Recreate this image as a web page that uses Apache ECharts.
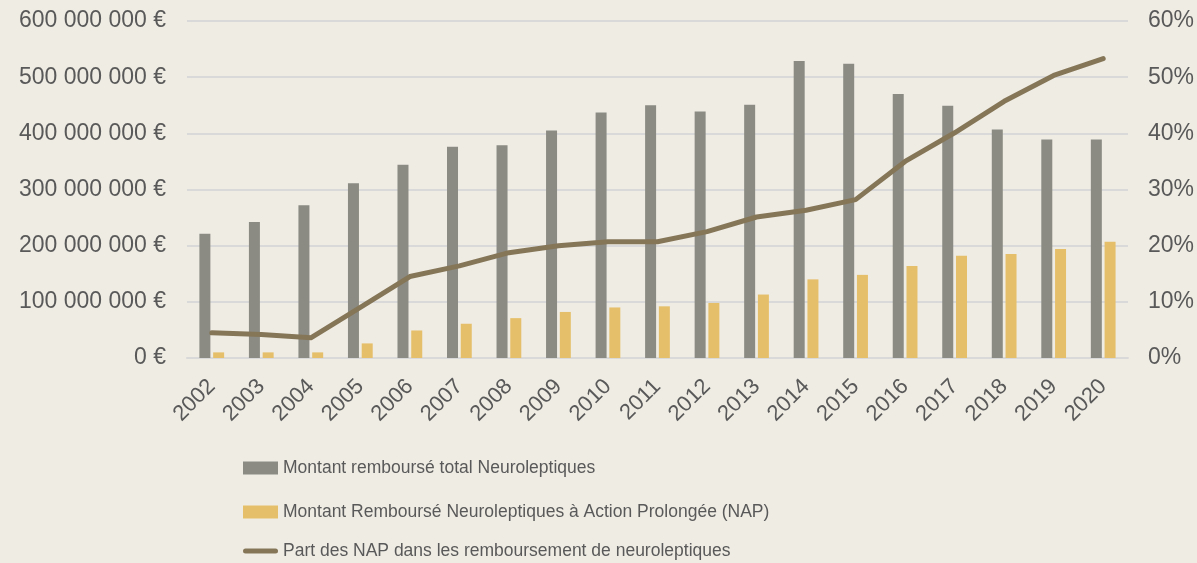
<!DOCTYPE html>
<html>
<head>
<meta charset="utf-8">
<script src="https://cdn.jsdelivr.net/npm/echarts@6/dist/echarts.min.js"></script>
<style>
html,body{margin:0;padding:0;background:#EFECE4;}
#c{width:1197px;height:563px;}
</style>
</head>
<body>
<div id="c"></div>
<script>
var years = ['2002','2003','2004','2005','2006','2007','2008','2009','2010','2011','2012','2013','2014','2015','2016','2017','2018','2019','2020'];
var totalRembourse = [221000000,242000000,272000000,311000000,344000000,376000000,379000000,405000000,437000000,450000000,439000000,451000000,529000000,524000000,470000000,449000000,407000000,389000000,389000000];
var napRembourse = [10000000,10000000,10000000,26000000,49000000,61000000,71000000,82000000,90000000,92000000,98000000,113000000,140000000,148000000,164000000,182000000,185000000,194000000,207000000];
var partNap = [4.5,4.2,3.6,9.0,14.5,16.4,18.75,20.0,20.7,20.7,22.5,25.1,26.3,28.2,35.0,40.1,45.7,50.3,53.3];
var seriesNames = ['Montant remboursé total Neuroleptiques','Montant Remboursé Neuroleptiques à Action Prolongée (NAP)','Part des NAP dans les remboursement de neuroleptiques'];

function fmtEuro(v){
  var s = String(Math.round(v));
  return s.replace(/\B(?=(\d{3})+(?!\d))/g, ' ') + ' €';
}

var chart = echarts.init(document.getElementById('c'));
var txt = '#595959';
var legendText = {color: txt, fontSize: 17.5};
chart.setOption({
  backgroundColor: '#EFECE4',
  animation: false,
  textStyle: {fontFamily: 'Liberation Sans, Arial, sans-serif'},
  grid: {left: 187, right: 69, top: 21, bottom: 205, containLabel: false},
  legend: [
    {left: 243, top: 459, padding: 0, itemWidth: 35, itemHeight: 13, itemGap: 5,
     textStyle: legendText, data: [{name: seriesNames[0], icon: 'rect'}]},
    {left: 243, top: 503, padding: 0, itemWidth: 35, itemHeight: 13, itemGap: 5,
     textStyle: legendText, data: [{name: seriesNames[1], icon: 'rect'}]},
    {left: 243, top: 542, padding: 0, itemWidth: 35, itemHeight: 13, itemGap: 5,
     textStyle: legendText,
     data: [{name: seriesNames[2], icon: 'path://M2.5,0 L32.5,0 A2.5,2.5 0 0 1 32.5,5 L2.5,5 A2.5,2.5 0 0 1 2.5,0 Z'}]}
  ],
  xAxis: {
    type: 'category', data: years,
    axisLine: {lineStyle: {color: '#D9D9D9', width: 2}},
    axisTick: {show: false},
    axisLabel: {rotate: 45, color: txt, fontSize: 22, margin: 25, interval: 0}
  },
  yAxis: [
    {type: 'value', min: 0, max: 600000000, interval: 100000000,
     axisLabel: {color: txt, fontSize: 23, margin: 21, formatter: fmtEuro},
     splitLine: {lineStyle: {color: '#D9D9D9', width: 2}},
     axisLine: {show: false}, axisTick: {show: false}},
    {type: 'value', min: 0, max: 60, interval: 10,
     axisLabel: {color: txt, fontSize: 23, margin: 20, formatter: '{value}%'},
     splitLine: {show: false}, axisLine: {show: false}, axisTick: {show: false}}
  ],
  series: [
    {name: seriesNames[0], type: 'bar', data: totalRembourse, barWidth: 11, barGap: '25%',
     itemStyle: {color: '#8B8B83'}},
    {name: seriesNames[1], type: 'bar', data: napRembourse, barWidth: 11,
     itemStyle: {color: '#E6BF6A'}},
    {name: seriesNames[2], type: 'line', yAxisIndex: 1, data: partNap, symbol: 'none',
     lineStyle: {color: '#857658', width: 5, cap: 'round', join: 'round'}, itemStyle: {color: '#857658'}}
  ]
});
</script>
</body>
</html>
